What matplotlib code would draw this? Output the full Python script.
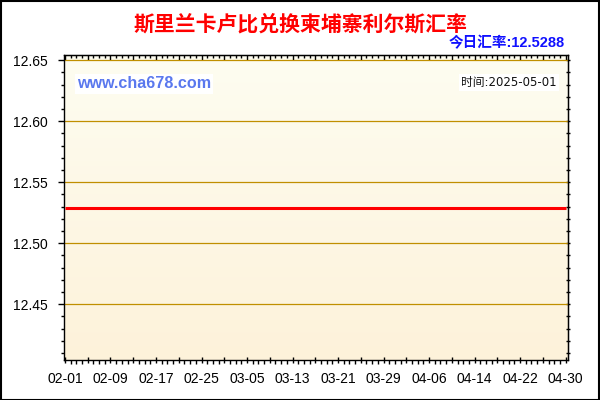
import numpy as np
import pandas as pd
import matplotlib
matplotlib.use("Agg")
import matplotlib.pyplot as plt
import matplotlib.dates as mdates
from matplotlib.patches import Rectangle
from matplotlib.ticker import MultipleLocator, FixedLocator, NullFormatter

# data: daily LKR -> KHR rate, 2025-02-01 .. 2025-04-30 (flat line)
dates = pd.date_range("2025-02-01", "2025-04-30", freq="D")
rates = [
    12.5288, 12.5288, 12.5288, 12.5288, 12.5288, 12.5288, 12.5288, 12.5288, 12.5288, 12.5288,
    12.5288, 12.5288, 12.5288, 12.5288, 12.5288, 12.5288, 12.5288, 12.5288, 12.5288, 12.5288,
    12.5288, 12.5288, 12.5288, 12.5288, 12.5288, 12.5288, 12.5288, 12.5288, 12.5288, 12.5288,
    12.5288, 12.5288, 12.5288, 12.5288, 12.5288, 12.5288, 12.5288, 12.5288, 12.5288, 12.5288,
    12.5288, 12.5288, 12.5288, 12.5288, 12.5288, 12.5288, 12.5288, 12.5288, 12.5288, 12.5288,
    12.5288, 12.5288, 12.5288, 12.5288, 12.5288, 12.5288, 12.5288, 12.5288, 12.5288, 12.5288,
    12.5288, 12.5288, 12.5288, 12.5288, 12.5288, 12.5288, 12.5288, 12.5288, 12.5288, 12.5288,
    12.5288, 12.5288, 12.5288, 12.5288, 12.5288, 12.5288, 12.5288, 12.5288, 12.5288, 12.5288,
    12.5288, 12.5288, 12.5288, 12.5288, 12.5288, 12.5288, 12.5288, 12.5288, 12.5288,
]
yticks = [12.45, 12.50, 12.55, 12.60, 12.65]
title = "斯里兰卡卢比兑换柬埔寨利尔斯汇率"
rate_text = "今日汇率:12.5288"
time_text = "时间:2025-05-01"
site = "www.cha678.com"

W, H = 600, 400
fig = plt.figure(figsize=(6, 4), dpi=100)
fig.patch.set_facecolor("white")

# axes box in pixels: x 63.5..568, y 55..360
ax = fig.add_axes([63.5 / W, 1 - 360 / H, 504.5 / W, 305 / H])

# warm gradient background
grad = np.linspace(0, 1, 256).reshape(-1, 1)
top_c = np.array([254, 253, 241]) / 255
bot_c = np.array([253, 242, 218]) / 255
img = top_c * (1 - grad[..., None]) + bot_c * grad[..., None]
ax.imshow(img, extent=[0, 1, 0, 1], transform=ax.transAxes, aspect="auto", zorder=0)

x = mdates.date2num(dates)
ax.plot(x, rates, color="#ff0000", lw=2.2, zorder=3, solid_capstyle="butt")

x0 = x[0]
ax.set_xlim(x0 - 0.26, x0 + 88.42)
ax.set_ylim(12.4043, 12.6543)

for v in yticks:
    ax.axhline(v, color="#c08f00", lw=0.9, zorder=2)

tick_font = dict(family="Liberation Sans", size=10)

# bottom axis: long ticks every 4 days, labels every 8
ax.xaxis.set_major_locator(FixedLocator(x[::4]))
ax.xaxis.set_minor_locator(FixedLocator(x))
lab = [dates[i].strftime("%m-%d") if i % 8 == 0 else "" for i in range(0, len(dates), 4)]
ax.set_xticklabels(lab, **tick_font)
ax.tick_params(axis="x", which="major", direction="inout", length=5, width=1, pad=6, colors="black")
ax.tick_params(axis="x", which="minor", direction="out", length=3, width=1)

# left axis
ax.yaxis.set_major_locator(FixedLocator(yticks))
ax.yaxis.set_minor_locator(MultipleLocator(0.01))
ax.set_yticklabels([f"{v:.2f}" for v in yticks], **tick_font)
ax.tick_params(axis="y", which="major", direction="out", length=4, width=1, pad=7)
ax.tick_params(axis="y", which="minor", direction="out", length=2, width=1)

# top and right ticks
top = ax.secondary_xaxis("top")
top.xaxis.set_major_locator(FixedLocator(x[::4]))
top.xaxis.set_minor_locator(FixedLocator(x))
top.xaxis.set_major_formatter(NullFormatter())
top.tick_params(which="major", direction="in", length=3.6, width=1)
top.tick_params(which="minor", direction="in", length=1.8, width=1)

right = ax.secondary_yaxis("right")
right.yaxis.set_major_locator(FixedLocator(yticks))
right.yaxis.set_minor_locator(MultipleLocator(0.01))
right.yaxis.set_major_formatter(NullFormatter())
right.tick_params(which="both", direction="inout", length=2.5, width=1)

for s in ax.spines.values():
    s.set_color("black")
    s.set_linewidth(1)

# texts
fig.text(300 / W, 1 - 24 / H, title, ha="center", va="center", color="#ff0000",
         fontsize=15, fontweight="bold", family=["Noto Sans CJK SC", "DejaVu Sans"])
fig.text(564.5 / W, 1 - 43 / H, rate_text, ha="right", va="center", color="#1010ff",
         fontsize=10.5, fontweight="bold", family=["Liberation Sans", "Noto Sans CJK SC"])
fig.text(77 / W, 1 - 84 / H, site, ha="left", va="center", color="#5a78ee",
         fontsize=11.6, fontweight="bold", family="Liberation Sans",
         bbox=dict(facecolor="white", edgecolor="none", pad=1.5))
fig.text(556.5 / W, 1 - 82.5 / H, time_text, ha="right", va="center", color="#111111",
         fontsize=8.5, family=["DejaVu Sans", "Noto Sans CJK SC"],
         bbox=dict(facecolor="white", edgecolor="none", pad=1.5))

# outer frame
fig.patches.append(Rectangle((0.5 / W, 0.5 / H), 1 - 1.5 / W, 1 - 1.5 / H, transform=fig.transFigure,
                             fill=False, edgecolor="black", lw=1.5))

fig.savefig("out.png", dpi=100)
